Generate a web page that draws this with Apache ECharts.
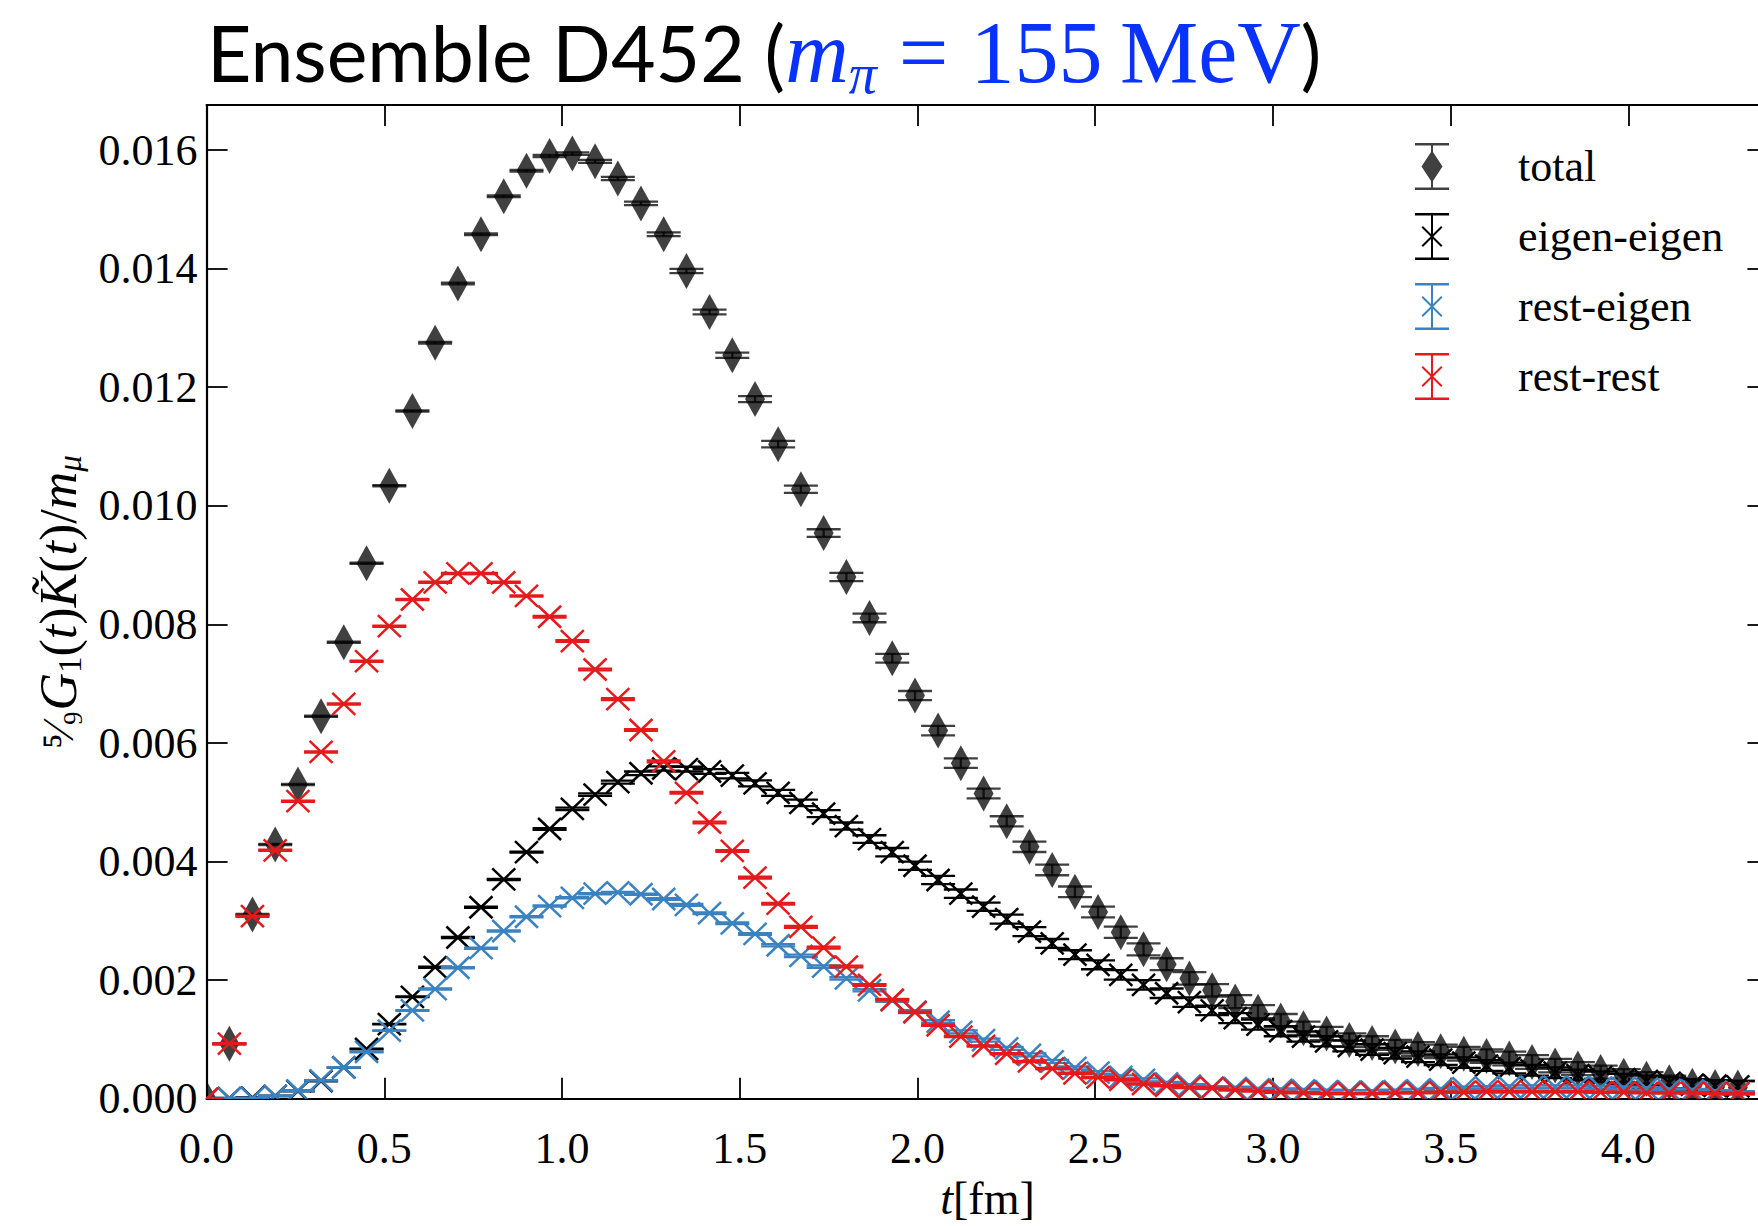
<!DOCTYPE html>
<html>
<head>
<meta charset="utf-8">
<script src="https://cdn.jsdelivr.net/npm/echarts@6/dist/echarts.min.js"></script>
<style>
html,body{margin:0;padding:0;overflow:hidden;background:#fff;}
</style>
</head>
<body>
<div id="main" style="width:1776px;height:1226px;"></div>
<script>
//时间片 t[fm]
var tFm=[0,0.064,0.129,0.193,0.257,0.322,0.386,0.450,0.514,0.579,
	0.643,0.707,0.772,0.836,0.900,0.965,1.029,1.093,1.157,1.222,
	1.286,1.350,1.415,1.479,1.543,1.608,1.672,1.736,1.800,1.865,
	1.929,1.993,2.058,2.122,2.186,2.251,2.315,2.379,2.443,2.508,
	2.572,2.636,2.701,2.765,2.829,2.894,2.958,3.022,3.086,3.151,
	3.215,3.279,3.344,3.408,3.472,3.537,3.601,3.665,3.729,3.794,
	3.858,3.922,3.987,4.051,4.115,4.180,4.244,4.308];
//total
var totalVal=[0.00000,0.00093,0.00311,0.00429,0.00530,0.00645,0.00770,0.00903,0.01034,0.01160,
	0.01275,0.01375,0.01458,0.01522,0.01565,0.01590,0.01594,0.01581,0.01552,0.01510,
	0.01458,0.01396,0.01327,0.01254,0.01180,0.01104,0.01028,0.00954,0.00880,0.00811,
	0.00743,0.00680,0.00621,0.00566,0.00515,0.00468,0.00425,0.00386,0.00349,0.00315,
	0.00281,0.00252,0.00227,0.00203,0.00183,0.00164,0.00147,0.00132,0.00119,0.00110,
	0.00099,0.00094,0.00088,0.00084,0.00080,0.00076,0.00072,0.00068,0.00062,0.00056,
	0.00051,0.00045,0.00039,0.00034,0.00028,0.00022,0.00020,0.00019];
var totalErr=[0.00001,0.00001,0.00001,0.00001,0.00001,0.00001,0.00001,0.00001,0.00001,0.00001,
	0.000015,0.000015,0.000015,0.000015,0.000015,0.00002,0.000022,0.000025,0.000027,0.00003,
	0.000032,0.000035,0.00004,0.000045,0.00005,0.000055,0.00006,0.000065,0.00007,0.000073,
	0.000075,0.000077,0.00008,0.00008,0.000082,0.000085,0.000088,0.00009,0.00009,0.000092,
	0.000095,0.0001,0.0001,0.000105,0.000105,0.00011,0.00011,0.00011,0.000112,0.000112,
	0.000115,0.000115,0.000115,0.000115,0.000115,0.000115,0.000115,0.000115,0.000115,0.000115,
	0.00011,0.00011,0.00011,0.00011,0.00011,0.00011,0.00011,0.00011];
//eigen-eigen
var eeVal=[0.00000,0.00001,0.00002,0.00005,0.00013,0.00030,0.00053,0.00084,0.00126,0.00172,
	0.00222,0.00272,0.00323,0.00370,0.00416,0.00455,0.00489,0.00513,0.00534,0.00549,
	0.00557,0.00556,0.00552,0.00545,0.00532,0.00516,0.00499,0.00481,0.00460,0.00438,
	0.00416,0.00393,0.00369,0.00346,0.00324,0.00303,0.00282,0.00262,0.00243,0.00226,
	0.00209,0.00192,0.00178,0.00163,0.00149,0.00136,0.00125,0.00114,0.00105,0.00097,
	0.00089,0.00083,0.00077,0.00071,0.00066,0.00061,0.00056,0.00052,0.00048,0.00044,
	0.00040,0.00037,0.00033,0.00030,0.00027,0.00024,0.00022,0.00021];
var eeErr=[0.000005,0.000005,0.000005,0.000005,0.000005,0.000005,0.000005,0.000005,0.000005,0.000005,
	0.00001,0.00001,0.00001,0.00001,0.00001,0.000015,0.00002,0.00002,0.000025,0.00003,
	0.000035,0.00004,0.00004,0.000045,0.00005,0.00005,0.000055,0.00006,0.00006,0.000065,
	0.00007,0.00007,0.00007,0.00007,0.00007,0.000075,0.000075,0.000075,0.000075,0.000075,
	0.00008,0.00008,0.00008,0.00008,0.00008,0.000085,0.000085,0.000085,0.000085,0.000085,
	0.00009,0.00009,0.00009,0.00009,0.00009,0.00009,0.00009,0.00009,0.00009,0.00009,
	0.00009,0.00009,0.00009,0.00009,0.00009,0.00009,0.00009,0.00009];
//rest-eigen
var reVal=[0.00000,0.00001,0.00001,0.00005,0.00014,0.00031,0.00053,0.00079,0.00115,0.00149,
	0.00185,0.00221,0.00254,0.00283,0.00307,0.00325,0.00339,0.00346,0.00348,0.00345,
	0.00337,0.00327,0.00313,0.00296,0.00278,0.00259,0.00241,0.00223,0.00203,0.00183,
	0.00166,0.00147,0.00130,0.00113,0.00099,0.00085,0.00074,0.00063,0.00052,0.00044,
	0.00037,0.00032,0.00026,0.00022,0.00019,0.00018,0.00016,0.00015,0.00014,0.00013,
	0.00012,0.00012,0.00013,0.00014,0.00016,0.00018,0.00019,0.00020,0.00020,0.00020,
	0.00020,0.00019,0.00018,0.00017,0.00015,0.00014,0.00012,0.00010];
var reErr=[0.000005,0.000005,0.000005,0.000005,0.000005,0.000005,0.000005,0.000005,0.000005,0.000005,
	0.00001,0.00001,0.00001,0.00001,0.00001,0.00001,0.00001,0.00001,0.00001,0.00001,
	0.000015,0.000015,0.000015,0.000015,0.000015,0.00002,0.00002,0.00002,0.00002,0.00002,
	0.000025,0.000025,0.000025,0.000025,0.000025,0.000025,0.000025,0.000025,0.000025,0.000025,
	0.000025,0.000025,0.000025,0.000025,0.000025,0.000025,0.000025,0.000025,0.000025,0.000025,
	0.000025,0.000025,0.000025,0.000025,0.000025,0.000025,0.000025,0.000025,0.000025,0.000025,
	0.000025,0.000025,0.000025,0.000025,0.000025,0.000025,0.000025,0.000025];
//rest-rest
var rrVal=[0.00000,0.00093,0.00308,0.00419,0.00502,0.00585,0.00666,0.00738,0.00797,0.00842,
	0.00871,0.00886,0.00886,0.00871,0.00848,0.00813,0.00772,0.00724,0.00674,0.00622,
	0.00569,0.00516,0.00466,0.00418,0.00373,0.00329,0.00290,0.00255,0.00223,0.00192,
	0.00167,0.00146,0.00124,0.00105,0.00089,0.00076,0.00063,0.00051,0.00043,0.00036,
	0.00032,0.00025,0.00022,0.00019,0.00018,0.00015,0.00013,0.00011,0.00010,0.00009,
	0.00009,0.00009,0.00010,0.00010,0.00011,0.00011,0.00012,0.00012,0.00012,0.00012,
	0.00012,0.00011,0.00011,0.00010,0.00010,0.00010,0.00009,0.00009];
var rrErr=[0.00001,0.00001,0.00001,0.00001,0.00001,0.00001,0.00001,0.00001,0.00001,0.00001,
	0.00001,0.00001,0.00001,0.00001,0.00001,0.000015,0.000015,0.000015,0.000015,0.000015,
	0.000015,0.000015,0.000015,0.000015,0.000015,0.000015,0.000015,0.000015,0.000015,0.000015,
	0.00001,0.00001,0.00001,0.00001,0.00001,0.00001,0.00001,0.00001,0.00001,0.00001,
	0.00001,0.00001,0.00001,0.00001,0.00001,0.00001,0.00001,0.00001,0.00001,0.00001,
	0.00001,0.00001,0.00001,0.00001,0.00001,0.00001,0.00001,0.00001,0.00001,0.00001,
	0.00001,0.00001,0.00001,0.00001,0.00001,0.00001,0.00001,0.00001];
var seriesNames=['total','eigen-eigen','rest-eigen','rest-rest'];
var seriesColors=['rgba(0,0,0,0.75)','#000000','#3a82c0','#e41a1c'];

var serif='"Liberation Serif", "DejaVu Serif", serif';
var capHalf=17;//误差棒帽宽的一半
//图例图标：误差棒+标记
var iconDiamond='path://M0 0H34V2.4H0ZM0 44.6H34V47H0ZM16 0H18V47H16ZM17 7.5L27.5 23.5L17 39.5L6.5 23.5Z';
var iconCross='path://M0 0H34V2.4H0ZM0 44.6H34V47H0ZM16 0H18V47H16Z'+
	'M6.5 14.4L7.9 13L17 22.1L26.1 13L27.5 14.4L18.4 23.5L27.5 32.6L26.1 34L17 24.9L7.9 34L6.5 32.6L15.6 23.5Z';

var makeSeries=function(idx,vals,errs,marker){
	var color=seriesColors[idx];
	var data=[];
	for(var i=0;i<tFm.length;i++){
		data.push([tFm[i],vals[i],errs[i]]);
	}
	return {
		name:seriesNames[idx],
		type:'custom',
		clip:true,
		z:2+idx,
		itemStyle:{color:color},
		encode:{x:0,y:1},
		data:data,
		renderItem:function(params,api){
			var t=api.value(0),v=api.value(1),e=api.value(2);
			var c=api.coord([t,v]);
			var hi=api.coord([t,v+e]);
			var lo=api.coord([t,v-e]);
			var lw=2.3;
			var children=[
				{type:'line',shape:{x1:c[0],y1:hi[1],x2:c[0],y2:lo[1]},style:{stroke:color,lineWidth:lw}},
				{type:'line',shape:{x1:c[0]-capHalf,y1:hi[1],x2:c[0]+capHalf,y2:hi[1]},style:{stroke:color,lineWidth:lw}},
				{type:'line',shape:{x1:c[0]-capHalf,y1:lo[1],x2:c[0]+capHalf,y2:lo[1]},style:{stroke:color,lineWidth:lw}}
			];
			if(marker=='diamond'){
				children.push({type:'polygon',shape:{points:[[c[0],c[1]-18],[c[0]+10,c[1]],[c[0],c[1]+18],[c[0]-10,c[1]]]},style:{fill:color}});
			}else{
				children.push({type:'line',shape:{x1:c[0]-11.5,y1:c[1]-11,x2:c[0]+11.5,y2:c[1]+11},style:{stroke:color,lineWidth:2.5}});
				children.push({type:'line',shape:{x1:c[0]+11.5,y1:c[1]-11,x2:c[0]-11.5,y2:c[1]+11},style:{stroke:color,lineWidth:2.5}});
			}
			return {type:'group',children:children};
		}
	};
};

var axisCommon=function(){
	return {
		axisLine:{show:true,onZero:false,lineStyle:{color:'#000',width:2.2}},
		axisTick:{show:true,inside:true,length:21,lineStyle:{color:'#000',width:1.8}},
		splitLine:{show:false}
	};
};
var xMin=0,xMax=4.394,yMin=0,yMax=0.01676;

var dom=document.getElementById('main');
var myChart=echarts.init(dom,null,{renderer:'svg'});
var option={
	backgroundColor:'#fff',
	animation:false,
	title:{
		left:207,
		top:2,
		padding:0,
		text:'{a|Ensemble D452 (}{m|m}{p|π}{b| = 155\u2009MeV}{a|)}',
		textStyle:{
			fontWeight:'normal',
			rich:{
				a:{fontFamily:'Lato, "Open Sans", sans-serif',fontWeight:'normal',fontSize:77,color:'#000',lineHeight:100},
				m:{fontFamily:serif,fontStyle:'italic',fontWeight:'normal',fontSize:88,color:'#0a32ff',lineHeight:100},
				p:{fontFamily:serif,fontStyle:'italic',fontWeight:'normal',fontSize:56,color:'#0a32ff',lineHeight:56,verticalAlign:'bottom'},
				b:{fontFamily:serif,fontWeight:'normal',fontSize:88,color:'#0a32ff',lineHeight:100}
			}
		}
	},
	legend:{
		orient:'vertical',
		left:1415,
		top:143,
		padding:0,
		itemWidth:34,
		itemHeight:47,
		itemGap:23,
		selectedMode:false,
		textStyle:{fontFamily:serif,fontSize:44,color:'#000',padding:[0,0,0,64]},
		data:[
			{name:'total',icon:iconDiamond,itemStyle:{color:seriesColors[0]}},
			{name:'eigen-eigen',icon:iconCross,itemStyle:{color:seriesColors[1]}},
			{name:'rest-eigen',icon:iconCross,itemStyle:{color:seriesColors[2]}},
			{name:'rest-rest',icon:iconCross,itemStyle:{color:seriesColors[3]}}
		]
	},
	grid:{left:206.6,right:7.6,top:105,bottom:127.2,containLabel:false,outerBoundsMode:'none'},
	xAxis:[
		Object.assign(axisCommon(),{
			type:'value',position:'bottom',min:xMin,max:xMax,interval:0.5,
			axisLabel:{show:true,margin:28,showMaxLabel:false,fontFamily:serif,fontSize:44,color:'#000',
				formatter:function(v){return v.toFixed(1);}},
			name:'{i|t}{r|[fm]}',nameLocation:'middle',nameGap:80,
			nameTextStyle:{rich:{i:{fontFamily:serif,fontStyle:'italic',fontSize:46,color:'#000',lineHeight:40},
				r:{fontFamily:serif,fontSize:46,color:'#000',lineHeight:40}}}
		}),
		Object.assign(axisCommon(),{
			type:'value',position:'top',min:xMin,max:xMax,interval:0.5,axisLabel:{show:false}
		})
	],
	yAxis:[
		Object.assign(axisCommon(),{
			type:'value',position:'left',min:yMin,max:yMax,interval:0.002,
			axisLabel:{show:true,margin:9,showMaxLabel:false,fontFamily:serif,fontSize:44,color:'#000',
				formatter:function(v){return v.toFixed(3);}},
			name:'{f|⁵⁄₉}{i|G}{s|1}{r|(}{i|t}{r|)}{i|K̃}{r|(}{i|t}{r|)/}{i|m}{si|μ}',
			nameLocation:'middle',nameGap:120,nameRotate:90,
			nameTextStyle:{rich:{
				f:{fontFamily:serif,fontSize:44,color:'#000',lineHeight:56},
				i:{fontFamily:serif,fontStyle:'italic',fontSize:52,color:'#000',lineHeight:56},
				r:{fontFamily:serif,fontSize:52,color:'#000',lineHeight:56},
				s:{fontFamily:serif,fontSize:33,color:'#000',lineHeight:33,verticalAlign:'bottom'},
				si:{fontFamily:serif,fontStyle:'italic',fontSize:33,color:'#000',lineHeight:33,verticalAlign:'bottom'}
			}}
		}),
		Object.assign(axisCommon(),{
			type:'value',position:'right',min:yMin,max:yMax,interval:0.002,axisLabel:{show:false}
		})
	],
	series:[
		makeSeries(0,totalVal,totalErr,'diamond'),
		makeSeries(1,eeVal,eeErr,'cross'),
		makeSeries(2,reVal,reErr,'cross'),
		makeSeries(3,rrVal,rrErr,'cross')
	]
};
if(option && typeof option === "object") {
	myChart.setOption(option, true);
}
</script>
</body>
</html>
